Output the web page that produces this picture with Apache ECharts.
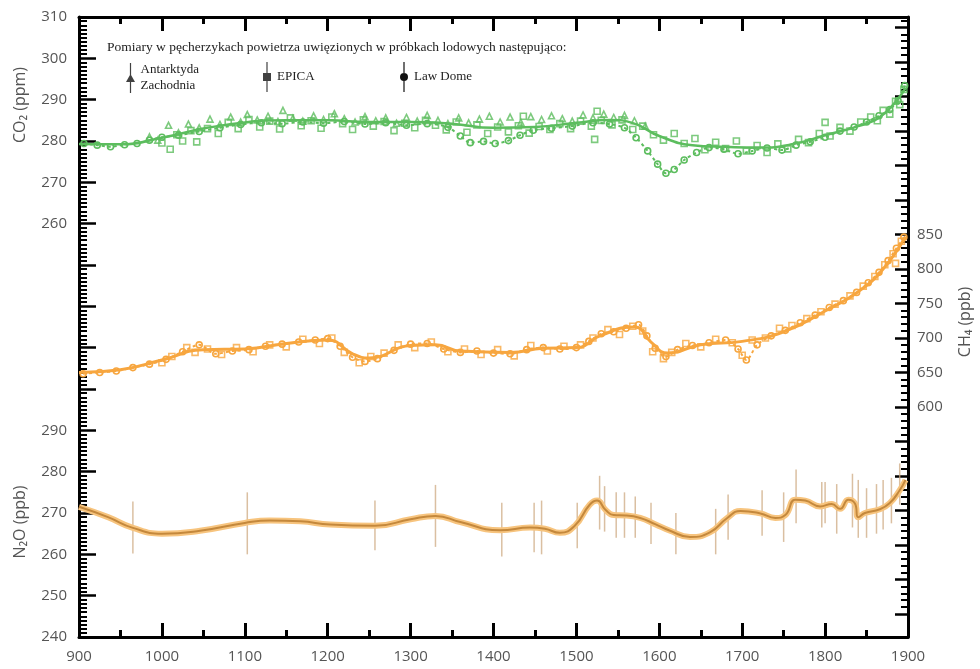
<!DOCTYPE html>
<html>
<head>
<meta charset="utf-8">
<script src="https://cdn.jsdelivr.net/npm/echarts@6/dist/echarts.min.js"></script>
<style>
  html, body { margin: 0; padding: 0; background: #fff; }
  #chart { width: 980px; height: 669px; }
</style>
</head>
<body>
<div id="chart"></div>
<script>
// CO2 (ppm)
const co2Wais = [[985,281],[995,280.2],[1008,283.8],[1020,282],[1032,284.1],[1045,283.2],[1058,285.3],[1070,284],[1083,285.8],[1095,284.6],[1103,286.4],[1115,285.1],[1128,286],[1140,284.7],[1146,287.4],[1158,285.5],[1170,284.8],[1183,286.1],[1195,285.2],[1208,286.6],[1220,285.4],[1233,284.6],[1245,285.9],[1258,284.9],[1270,285.6],[1283,284.3],[1295,285.7],[1308,284.8],[1320,286.2],[1333,285],[1345,284.2],[1358,285.6],[1370,284.4],[1383,285.3],[1395,286],[1408,284.6],[1420,285.8],[1433,284.5],[1445,285.9],[1458,285.2],[1470,286.1],[1483,285.4],[1495,284.8],[1508,286.3],[1520,285.6],[1533,286.5],[1545,285.7],[1558,286.2],[1570,284.9],[1583,283.6]];
const co2Epica = [[1000,279.5],[1010,278],[1018,281.5],[1025,280],[1035,282.5],[1042,279.8],[1055,283],[1068,281.8],[1080,284.5],[1092,283],[1105,285.2],[1118,283.4],[1130,284.8],[1142,282.9],[1155,285.6],[1168,283.7],[1180,284.9],[1192,283.1],[1205,285.8],[1218,284.2],[1230,282.8],[1243,285.1],[1255,283.6],[1268,284.7],[1280,282.5],[1293,284.3],[1305,283.2],[1318,285],[1330,283.8],[1343,282.7],[1355,284.6],[1368,282.1],[1380,283.9],[1393,281.8],[1405,283.4],[1418,282.2],[1430,283.7],[1436,286],[1443,281.9],[1455,283.5],[1468,282.8],[1480,284.2],[1493,283],[1505,284.8],[1518,283.6],[1522,280.4],[1525,287.2],[1530,285],[1543,283.9],[1555,285.1],[1568,282.8],[1580,283.6],[1593,281.5],[1605,280.2],[1618,281.8],[1630,279.4],[1643,280.6],[1655,277.9],[1668,279.7],[1680,278.2],[1693,280],[1705,277.6],[1718,278.9],[1730,277.2],[1743,279.3],[1755,278.1],[1768,280.4],[1780,279.6],[1793,281.8],[1800,284.5],[1806,281.2],[1818,283.3],[1830,282.4],[1843,284.6],[1855,285.8],[1863,284.9],[1870,287.4],[1878,286.5],[1885,289.6],[1890,288.8],[1895,292.5]];
const co2LawDome = [[906,279.4],[922,279],[938,278.6],[955,279.1],[970,279.4],[985,280.2],[1000,280.9],[1020,281.4],[1045,282.3],[1070,283.2],[1095,284],[1120,284.4],[1145,284.2],[1170,284.6],[1195,284.3],[1220,284.7],[1245,284.1],[1270,284.4],[1295,283.8],[1320,284.2],[1345,283.3],[1360,281.2],[1372,279.6],[1388,279.9],[1402,279.4],[1418,280.1],[1432,281.4],[1448,282.6],[1470,283.1],[1495,283.6],[1520,284.4],[1540,284.1],[1558,283.2],[1572,280.8],[1586,277.6],[1598,274.4],[1608,272.2],[1618,273.1],[1630,275.4],[1645,277.2],[1660,278.4],[1678,278],[1695,276.9],[1712,277.6],[1730,278.3],[1748,277.8],[1765,279],[1782,279.8],[1800,280.9],[1818,282.4],[1835,283.4],[1850,284.6],[1865,286.1],[1878,287.6],[1888,289.8],[1896,293.4]];
const co2Smooth = [[900,279.3],[950,279.2],[1000,280.8],[1050,283],[1100,284.5],[1150,285],[1200,285],[1250,284.6],[1300,284.6],[1350,284.2],[1400,283.2],[1450,283.4],[1500,284.4],[1540,285.1],[1570,284.2],[1600,281.2],[1640,279],[1680,278.6],[1720,278.4],[1760,279.2],[1800,281.4],[1840,283.6],[1870,286.4],[1897,292.8]];

// CH4 (ppb)
const ch4LawDome = [[905,648],[925,650],[945,652],[965,657],[985,662],[1005,669],[1025,680],[1045,690],[1065,677],[1085,681],[1105,683],[1125,688],[1145,691],[1165,694],[1185,697],[1200,699],[1215,688],[1230,672],[1245,666],[1260,670],[1280,682],[1300,691],[1320,692],[1340,684],[1360,679],[1380,681],[1400,678],[1420,677],[1440,683],[1460,686],[1480,684],[1500,686],[1515,695],[1530,706],[1545,709],[1560,714],[1575,719],[1585,703],[1595,685],[1608,673],[1622,683],[1640,689],[1660,693],[1680,697],[1695,684],[1705,668],[1718,690],[1735,703],[1752,711],[1770,722],[1788,733],[1805,744],[1822,754],[1838,766],[1852,780],[1865,795],[1876,812],[1886,830],[1895,846]];
const ch4Epica = [[1000,664],[1012,673],[1030,686],[1040,679],[1055,684],[1072,676],[1090,686],[1110,680],[1130,690],[1150,687],[1170,698],[1190,692],[1205,700],[1220,679],[1238,664],[1252,673],[1268,678],[1285,690],[1305,686],[1325,694],[1345,680],[1365,684],[1385,676],[1405,683],[1425,674],[1445,689],[1465,681],[1485,688],[1505,690],[1520,700],[1538,712],[1552,705],[1568,717],[1580,710],[1592,680],[1605,670],[1615,679],[1632,692],[1650,687],[1668,698],[1688,693],[1700,675],[1712,697],[1728,700],[1745,714],[1760,718],[1778,728],[1795,738],[1812,749],[1830,761],[1846,775],[1860,789],[1872,806],[1882,822],[1885,808],[1892,840]];
const ch4Smooth = [[900,650],[950,654],[1000,668],[1050,683],[1100,684],[1150,692],[1200,697],[1230,677],[1250,671],[1300,689],[1330,690],[1360,681],[1420,679],[1460,685],[1500,686],[1530,704],[1570,716],[1590,694],[1610,678],[1650,690],[1700,695],[1750,709],[1800,739],[1840,767],[1870,800],[1897,847]];

// N2O (ppb)
const n2oSmooth = [[900,271.5],[935,269],[965,266.4],[1000,265],[1046,265.7],[1100,267.6],[1130,268.2],[1167,268],[1203,267.2],[1257,266.9],[1300,268.5],[1330,269.3],[1360,267.8],[1408,265.8],[1444,266.5],[1462,266.2],[1480,265.2],[1498,266.9],[1516,272],[1525,273],[1535,270.8],[1545,269.5],[1560,269.4],[1577,268.8],[1595,267.3],[1613,265.7],[1637,264.2],[1661,265.3],[1682,268.8],[1698,270.5],[1722,269.9],[1740,268.8],[1752,269.5],[1764,273.2],[1776,273],[1794,271.6],[1808,272.2],[1818,271],[1828,273.2],[1836,272.3],[1840,269],[1848,270],[1866,270.9],[1878,272.4],[1890,275.5],[1897,278]];
// [rok, srodek, blad]
const n2oErr = [[965,266.5,6.3],[1103,267.5,7.5],[1257,267,6],[1330,269.3,7.5],[1410,266,6.5],[1449,266.5,6],[1458,266.5,6.5],[1501,267,5.5],[1528,272.5,6.5],[1534,271,5.5],[1548,269.5,5.5],[1558,269.5,5.5],[1571,269,5],[1590,267.5,5],[1620,265,5],[1668,265.5,5.5],[1683,269,5.5],[1724,270,5.5],[1750,269,6],[1765,274,6.5],[1796,272,5.5],[1800,272.5,5],[1814,271,6],[1833,273,6.5],[1840,271,7],[1850,270,6],[1862,271,6],[1870,272,6],[1880,273,5.5],[1890,277,5]];

const green = '#5cbd5e';
const orange = '#f7a63f';
const labelFont = { color: '#555', fontSize: 15, fontFamily: 'Open Sans' };
const serif = 'Liberation Serif';

const triIcon = 'path://M4.4,0H5.6V30H4.4Z M0.5,19L5,11L9.5,19Z';
const sqIcon = 'path://M4.4,0H5.6V30H4.4Z M1,11H9V19H1Z';
const ciIcon = 'path://M4.4,0H5.6V30H4.4Z M9,15A4,4,0,1,1,1,15A4,4,0,1,1,9,15Z';

function legendItem(name, icon, left) {
  return {
    left: left, top: 62, padding: 0,
    itemWidth: 10, itemHeight: 30,
    selectedMode: false,
    textStyle: { fontFamily: serif, fontSize: 13, color: '#222', lineHeight: 16 },
    data: [{ name: name, icon: icon, itemStyle: { color: '#111', borderWidth: 0 } }]
  };
}

function tickAxis(pos) {
  return {
    gridIndex: 0, type: 'value', min: 900, max: 1900, interval: 100, position: pos,
    axisLine: { lineStyle: { color: '#000', width: 3 } },
    axisTick: { show: true, inside: true, length: 14, lineStyle: { color: '#000', width: 3 } },
    minorTick: { show: true, splitNumber: 2, length: 7, lineStyle: { color: '#000', width: 3 } },
    axisLabel: pos === 'bottom' ? Object.assign({ margin: 12, formatter: v => String(v) }, labelFont) : { show: false },
    splitLine: { show: false }
  };
}

function hollow(color) {
  return { color: 'rgba(255,255,255,0)', borderColor: color, borderWidth: 1.6 };
}

function axisName(text, x, y) {
  return {
    type: 'text', x: x, y: y, rotation: Math.PI / 2,
    style: { text: text, font: '16px "Open Sans"', fill: '#555', align: 'center', verticalAlign: 'middle' }
  };
}

const chart = echarts.init(document.getElementById('chart'));

chart.setOption({
  backgroundColor: '#fff',
  animation: false,
  title: {
    text: 'Pomiary w pęcherzykach powietrza uwięzionych w próbkach lodowych następująco:',
    left: 107, top: 40, padding: 0,
    textStyle: { fontFamily: serif, fontSize: 13.5, fontWeight: 'normal', color: '#222' }
  },
  legend: [
    legendItem('Antarktyda\nZachodnia', triIcon, 126),
    legendItem('EPICA', sqIcon, 263),
    legendItem('Law Dome', ciIcon, 400)
  ],
  grid: [
    { left: 79, top: 17, width: 829, height: 620 },
    { left: 79, top: 17, width: 829, height: 597 }
  ],
  xAxis: [
    tickAxis('bottom'),
    tickAxis('top'),
    { gridIndex: 1, type: 'value', min: 900, max: 1900, show: false }
  ],
  yAxis: [
    { // CO2
      gridIndex: 0, type: 'value', min: 160, max: 310, interval: 10, position: 'left',
      axisLine: { show: true, lineStyle: { color: '#000', width: 3 } },
      axisTick: { show: true, inside: true, length: 17, lineStyle: { color: '#000', width: 2.5 } },
      minorTick: { show: true, splitNumber: 10, length: 8, lineStyle: { color: '#000', width: 2 } },
      axisLabel: Object.assign({ margin: 12, formatter: v => (v >= 260 ? String(v) : '') }, labelFont),
      splitLine: { show: false }
    },
    { // N2O
      gridIndex: 0, type: 'value', min: 240, max: 390, interval: 10, position: 'left',
      axisLine: { show: false }, axisTick: { show: false },
      axisLabel: Object.assign({ margin: 12, formatter: v => (v <= 290 ? String(v) : '') }, labelFont),
      splitLine: { show: false }
    },
    { // prawa krawedz ramki
      gridIndex: 0, type: 'value', min: 0, max: 1, position: 'right',
      axisLine: { show: true, lineStyle: { color: '#000', width: 3 } },
      axisTick: { show: false }, axisLabel: { show: false }, splitLine: { show: false }
    },
    { // CH4
      gridIndex: 1, type: 'value', min: 300, max: 1165, interval: 50, position: 'right',
      axisLine: { show: false },
      axisTick: { show: true, inside: true, length: 13, lineStyle: { color: '#000', width: 2.5 } },
      minorTick: { show: true, splitNumber: 5, length: 7, lineStyle: { color: '#000', width: 2 } },
      axisLabel: Object.assign({ margin: 9, formatter: v => (v >= 600 && v <= 850 && v % 50 === 0 ? String(v) : '') }, labelFont),
      splitLine: { show: false }
    }
  ],
  graphic: [
    axisName('CO₂ (ppm)', 20, 105),
    axisName('N₂O (ppb)', 20, 522),
    axisName('CH₄ (ppb)', 965, 322)
  ],
  series: [
    // CO2
    { name: 'Antarktyda\nZachodnia', type: 'scatter', data: co2Wais, symbol: 'triangle', symbolSize: 6, itemStyle: hollow(green), z: 3 },
    { name: 'EPICA', type: 'scatter', data: co2Epica, symbol: 'rect', symbolSize: 6, itemStyle: hollow(green), z: 3 },
    { name: 'Law Dome', type: 'line', data: co2LawDome, symbol: 'circle', symbolSize: 6, smooth: 0.3,
      itemStyle: hollow(green), lineStyle: { color: green, width: 2, type: [3, 3] }, z: 3 },
    { type: 'line', data: co2Smooth, smooth: true, showSymbol: false, lineStyle: { color: green, width: 2.5 }, z: 4 },
    // CH4
    { name: 'EPICA', type: 'scatter', data: ch4Epica, xAxisIndex: 2, yAxisIndex: 3, symbol: 'rect', symbolSize: 6, itemStyle: hollow(orange), z: 3 },
    { name: 'Law Dome', type: 'line', data: ch4LawDome, xAxisIndex: 2, yAxisIndex: 3, symbol: 'circle', symbolSize: 6, smooth: 0.3,
      itemStyle: hollow(orange), lineStyle: { color: orange, width: 2, type: [3, 3] }, z: 3 },
    { type: 'line', data: ch4Smooth, xAxisIndex: 2, yAxisIndex: 3, smooth: true, showSymbol: false, lineStyle: { color: orange, width: 3 }, z: 4 },
    // N2O
    { type: 'custom', xAxisIndex: 0, yAxisIndex: 1, data: n2oErr, z: 2,
      renderItem: function (params, api) {
        const p1 = api.coord([api.value(0), api.value(1) - api.value(2)]);
        const p2 = api.coord([api.value(0), api.value(1) + api.value(2)]);
        return { type: 'line', shape: { x1: p1[0], y1: p1[1], x2: p2[0], y2: p2[1] },
          style: { stroke: 'rgba(205,170,130,0.75)', lineWidth: 1.5 } };
      } },
    { type: 'line', data: n2oSmooth, xAxisIndex: 0, yAxisIndex: 1, smooth: true, showSymbol: false, lineStyle: { color: '#f7c47e', width: 6 }, z: 3 },
    { type: 'line', data: n2oSmooth, xAxisIndex: 0, yAxisIndex: 1, smooth: true, showSymbol: false, lineStyle: { color: '#c4883c', width: 2 }, z: 4 }
  ]
});
</script>
</body>
</html>
